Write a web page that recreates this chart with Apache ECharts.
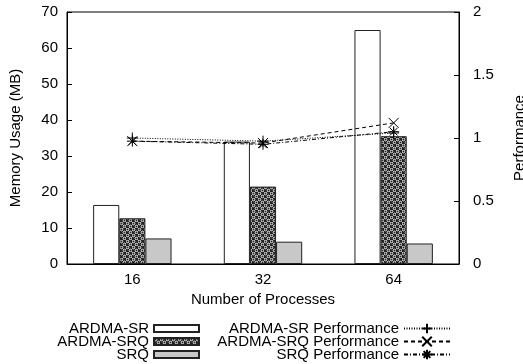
<!DOCTYPE html>
<html>
<head>
<meta charset="utf-8">
<script src="https://cdn.jsdelivr.net/npm/echarts@6/dist/echarts.min.js"></script>
<style>
  html, body { margin: 0; padding: 0; background: #fff; }
  #main { width: 523px; height: 364px; }
</style>
</head>
<body>
<div id="main"></div>
<script>
// data
var procs = ['16', '32', '64'];
var memSR = [16.4, 34.0, 65.0];
var memSRQ_A = [12.7, 21.5, 35.5];
var memSRQ = [7.1, 6.2, 5.7];
var perfSR = [1.0, 0.975, 1.04];
var perfSRQ_A = [0.975, 0.96, 1.12];
var perfSRQ = [0.975, 0.95, 1.05];
var memTicks = [0, 70, 10];
var perfTicks = [0, 2, 0.5];

var FONT = 'Liberation Sans, Arial, sans-serif';
var FS = 15;

// dotted black/white fill like the gnuplot pattern
function makePattern() {
    var c = document.createElement('canvas');
    c.width = 6; c.height = 6;
    var g = c.getContext('2d');
    g.fillStyle = '#222';
    g.fillRect(0, 0, 6, 6);
    g.strokeStyle = '#fff';
    g.lineWidth = 0.9;
    [[1.5, 1.5], [4.5, 4.5]].forEach(function (p) {
        g.beginPath();
        g.arc(p[0], p[1], 1.3, 0, Math.PI * 2);
        g.stroke();
    });
    return c;
}

var plusSym = 'path://M5,0L5,10M0,5L10,5';
var crossSym = 'path://M0,0L10,10M10,0L0,10';
var starSym = 'path://M5,0L5,10M0,5L10,5M1.5,1.5L8.5,8.5M8.5,1.5L1.5,8.5';

var legendText = { fontSize: FS, lineHeight: 13, color: '#000', fontFamily: FONT };

var myChart = echarts.init(document.getElementById('main'));
var option = {
    animation: false,
    textStyle: { fontFamily: FONT },
    grid: {
        left: 67, right: 64, top: 12, bottom: 100,
        outerBoundsMode: 'none',
        containLabel: false,
        show: true, borderColor: '#000', borderWidth: 1
    },
    legend: [
        {
            data: ['ARDMA-SR', 'ARDMA-SRQ', 'SRQ'],
            orient: 'vertical',
            align: 'right',
            right: 323,
            top: 321,
            width: 200,
            height: 80,
            padding: 0,
            itemGap: -2,
            itemWidth: 45,
            itemHeight: 7,
            icon: 'rect',
            textStyle: legendText
        },
        {
            data: ['ARDMA-SR Performance', 'ARDMA-SRQ Performance', 'SRQ Performance'],
            orient: 'vertical',
            align: 'right',
            right: 72,
            top: 321,
            width: 250,
            height: 80,
            padding: 0,
            itemGap: -2,
            itemWidth: 46,
            itemHeight: 12,
            textStyle: legendText
        }
    ],
    xAxis: {
        type: 'category',
        data: procs,
        name: 'Number of Processes',
        nameLocation: 'middle',
        nameGap: 26,
        nameTextStyle: { fontSize: FS, color: '#000' },
        axisLine: { lineStyle: { color: '#000', width: 1 } },
        axisTick: { show: false },
        axisLabel: { fontSize: FS, color: '#000', margin: 8 }
    },
    yAxis: [
        {
            type: 'value',
            min: memTicks[0], max: memTicks[1], interval: memTicks[2],
            name: 'Memory Usage (MB)',
            nameLocation: 'middle',
            nameRotate: 90,
            nameGap: 44,
            nameTextStyle: { fontSize: FS, color: '#000' },
            axisLine: { show: true, lineStyle: { color: '#000' } },
            axisTick: { show: true, inside: true, length: 5, lineStyle: { color: '#000' } },
            axisLabel: { fontSize: FS, color: '#000', margin: 9 },
            splitLine: { show: false }
        },
        {
            type: 'value',
            position: 'right',
            min: perfTicks[0], max: perfTicks[1], interval: perfTicks[2],
            name: 'Performance',
            nameLocation: 'middle',
            nameRotate: 90,
            nameGap: 53,
            nameTextStyle: { fontSize: FS, color: '#000' },
            axisLine: { show: true, lineStyle: { color: '#000' } },
            axisTick: { show: true, inside: true, length: 5, lineStyle: { color: '#000' } },
            axisLabel: { fontSize: FS, color: '#000', margin: 14 },
            splitLine: { show: false }
        }
    ],
    series: [
        {
            name: 'ARDMA-SR', type: 'bar', data: memSR,
            barGap: '0%', barCategoryGap: '40%',
            itemStyle: { color: '#fff', borderColor: '#222', borderWidth: 1 }
        },
        {
            name: 'ARDMA-SRQ', type: 'bar', data: memSRQ_A,
            barGap: '0%', barCategoryGap: '40%',
            itemStyle: { color: { image: makePattern(), repeat: 'repeat' }, borderColor: '#222', borderWidth: 1 }
        },
        {
            name: 'SRQ', type: 'bar', data: memSRQ,
            barGap: '0%', barCategoryGap: '40%',
            itemStyle: { color: '#c8c8c8', borderColor: '#222', borderWidth: 1 }
        },
        {
            name: 'ARDMA-SR Performance', type: 'line', yAxisIndex: 1, data: perfSR,
            symbol: plusSym, symbolSize: 11,
            lineStyle: { color: '#000', width: 1, type: [1, 1.5] },
            itemStyle: { color: '#000', borderColor: '#000', borderWidth: 1 }
        },
        {
            name: 'ARDMA-SRQ Performance', type: 'line', yAxisIndex: 1, data: perfSRQ_A,
            symbol: crossSym, symbolSize: 10,
            lineStyle: { color: '#000', width: 1, type: [4, 3] },
            itemStyle: { color: '#000', borderColor: '#000', borderWidth: 1 }
        },
        {
            name: 'SRQ Performance', type: 'line', yAxisIndex: 1, data: perfSRQ,
            symbol: starSym, symbolSize: 11,
            lineStyle: { color: '#000', width: 1, type: [4, 2, 1, 2] },
            itemStyle: { color: '#000', borderColor: '#000', borderWidth: 1 }
        }
    ]
};
myChart.setOption(option);
</script>
</body>
</html>
